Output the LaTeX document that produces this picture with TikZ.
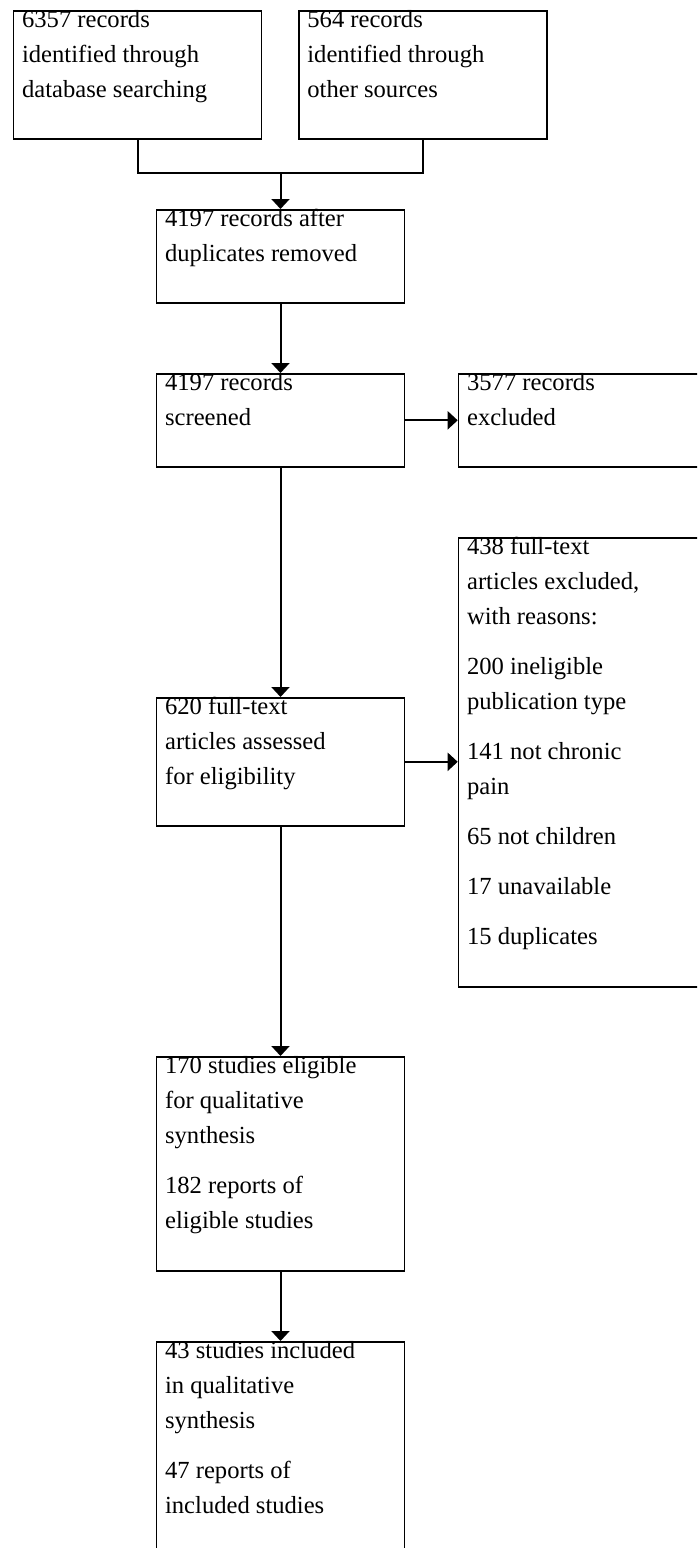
\documentclass[tikz,border=0pt]{standalone}
\usepackage{fontspec}
\setmainfont{Liberation Serif}
\usetikzlibrary{arrows.meta}
\begin{document}
\begin{tikzpicture}[x=.5pt,y=-.5pt,
		box/.style={draw,line width=.8pt,anchor=north west,minimum width=124pt,inner sep=0pt},
		txt/.style={anchor=north west,align=left,inner sep=0pt,font=\fontsize{12.3}{17.5}\selectfont},
		arr/.style={line width=1pt,-{Triangle[width=9pt,length=5pt]}}]
	\clip (0,0) rectangle (697,1548);
	\node[box,minimum height=64pt] (rec1) at (12.7,10) {};
	\node[box,minimum height=64pt] (rec2) at (298,10) {};
	\node[box,minimum height=46.5pt] (dup) at (155.7,209) {};
	\node[box,minimum height=46.5pt] (scr) at (155.7,373) {};
	\node[box,minimum height=46.5pt] (exc1) at (457.7,373) {};
	\node[box,minimum height=64pt] (full) at (155.7,697) {};
	\node[box,minimum height=224.5pt] (exc2) at (457.7,537) {};
	\node[box,minimum height=107pt] (elig) at (155.7,1056) {};
	\node[box,minimum height=125pt] (incl) at (155.7,1341) {};
	\node[txt] (rec1t) at ([shift={(4.5pt,0pt)}]rec1.north west) {6357 records\\identified through\\database searching};
	\node[txt] (rec2t) at ([shift={(4.5pt,0pt)}]rec2.north west) {564 records\\identified through\\other sources};
	\node[txt] (dupt) at ([shift={(4.5pt,0pt)}]dup.north west) {4197 records after\\duplicates removed};
	\node[txt] (scrt) at ([shift={(4.5pt,0pt)}]scr.north west) {4197 records\\screened};
	\node[txt] (exc1t) at ([shift={(4.5pt,0pt)}]exc1.north west) {3577 records\\excluded};
	\node[txt] (fullt) at ([shift={(4.5pt,0pt)}]full.north west) {620 full-text\\articles assessed\\for eligibility};
	\node[txt] (exc2t) at ([shift={(4.5pt,0pt)}]exc2.north west) {438 full-text\\articles excluded,\\with reasons:\\[7.5pt]200 ineligible\\publication type\\[7.5pt]141 not chronic\\pain\\[7.5pt]65 not children\\[7.5pt]17 unavailable\\[7.5pt]15 duplicates};
	\node[txt] (eligt) at ([shift={(4.5pt,0pt)}]elig.north west) {170 studies eligible\\for qualitative\\synthesis\\[7.5pt]182 reports of\\eligible studies};
	\node[txt] (inclt) at ([shift={(4.5pt,0pt)}]incl.north west) {43 studies included\\in qualitative\\synthesis\\[7.5pt]47 reports of\\included studies};
	\coordinate (join) at (dup.north |- 0,173);
	\draw[line width=1pt] (rec1.south) |- (join) -| (rec2.south);
	\draw[arr] (join) -- (dup.north);
	\draw[arr] (dup.south) -- (scr.north);
	\draw[arr] (scr.east) -- (exc1.west);
	\draw[arr] (scr.south) -- (full.north);
	\draw[arr] (full.east) -- (full.east -| exc2.west);
	\draw[arr] (full.south) -- (elig.north);
	\draw[arr] (elig.south) -- (incl.north);
\end{tikzpicture}
\end{document}
